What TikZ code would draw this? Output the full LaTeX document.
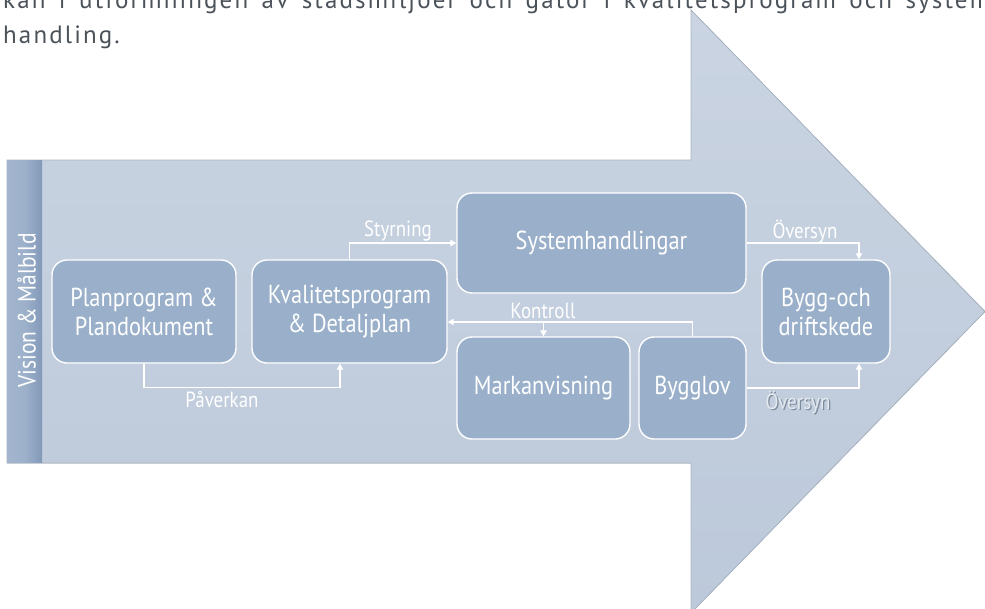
\documentclass[tikz,border=0pt]{standalone}
\usepackage{fontspec}
\setmainfont{PT Sans}[FakeStretch=0.86]
\newfontfamily\topfont{PT Sans}[LetterSpace=8.5]
\usetikzlibrary{arrows.meta,calc}
\definecolor{arrtop}{HTML}{CAD4E2}
\definecolor{arrbot}{HTML}{BCC9DA}
\definecolor{arredge}{HTML}{A9B4C3}
\definecolor{boxfill}{HTML}{9AB0CA}
\definecolor{stripL}{HTML}{A3B5CD}
\definecolor{stripM}{HTML}{9DB1CB}
\definecolor{stripR}{HTML}{8399B8}
\definecolor{toptext}{HTML}{4B525A}
\definecolor{shd}{HTML}{7D8A9B}
\definecolor{ltxt}{HTML}{E4E9EF}
\begin{document}
\begin{tikzpicture}[x=1pt,y=-1pt,
  box/.style={draw=white, line width=1.4pt, fill=boxfill, rounded corners=15pt,
    text=white, font=\fontsize{26}{29}\selectfont, align=center, inner sep=0pt},
  conn/.style={draw=white, line width=1.3pt},
  arr/.style={conn, -{Triangle[length=6pt,width=6.5pt]}},
  lbl/.style={text=white, font=\fontsize{22}{24}\selectfont, inner sep=0pt},
  toptxt/.style={text=toptext, font=\topfont\fontsize{25}{30}\selectfont, inner sep=0pt, anchor=base west}
]
\useasboundingbox (0,0) rectangle (985,608);
\begin{scope}
\clip (0,0) rectangle (985,608);
\node[toptxt] (t1) at (3,8) {\makebox[998pt][s]{kan i utformningen av stadsmiljöer och gator i kvalitetsprogram och system-}};
\node[toptxt] (t2) at (3,43) {handling.};
\fill[top color=arrtop, bottom color=arrbot, draw=arredge, line width=0.8pt]
  (7,160) -- (691,160) -- (691,10) -- (985,311.5) -- (691,613) -- (691,463) -- (7,463) -- cycle;
\end{scope}
\shade[left color=stripL, right color=stripR, middle color=stripM] (7,160.4) rectangle (42,462.6);
\node[rotate=90, text=white, font=\fontsize{25}{27}\selectfont, inner sep=0pt] (vision) at (26.5,310.5) {Vision \& Målbild};

\node[box, minimum width=184pt, minimum height=103pt] (plan) at (144,311.5) {Planprogram \&\\Plandokument};
\node[box, minimum width=195pt, minimum height=103pt] (kval) at (349.5,311.5) {Kvalitetsprogram\\\& Detaljplan};
\node[box, minimum width=289pt, minimum height=100pt] (sys) at (601.5,243) {Systemhandlingar};
\node[box, minimum width=173pt, minimum height=102pt] (mark) at (543.5,388) {Markanvisning};
\node[box, minimum width=107pt, minimum height=102pt] (bygg) at (692.5,388) {Bygglov};
\node[box, minimum width=128pt, minimum height=103pt] (drift) at (826,311.5) {Bygg-och\\driftskede};

\draw[arr] (plan.south) -- ++(0,24) -| ([xshift=-9.5pt]kval.south);
\draw[arr] (kval.north) |- (sys.west);
\draw[arr] (bygg.north) |- ([yshift=-10.5pt]kval.east);
\path ([yshift=-10.5pt]kval.east) coordinate (kline);
\draw[arr] (mark.north |- kline) -- (mark.north);
\draw[arr] (sys.east) -| ([xshift=33pt]drift.north);
\draw[arr] (bygg.east) -| ([xshift=33pt]drift.south);

\node[lbl] (lstyr) at (398,231) {Styrning};
\node[lbl] (lpav) at (222,400) {Påverkan};
\node[lbl] (lkon) at (543,311) {Kontroll};
\node[lbl] (love1) at (805,231) {Översyn};
\node[lbl] (love2) at (798,403) {\makebox[0pt][l]{\hspace{1.3pt}\raisebox{-1.3pt}{\color{shd}Översyn}}\color{ltxt}Översyn};
\end{tikzpicture}
\end{document}
